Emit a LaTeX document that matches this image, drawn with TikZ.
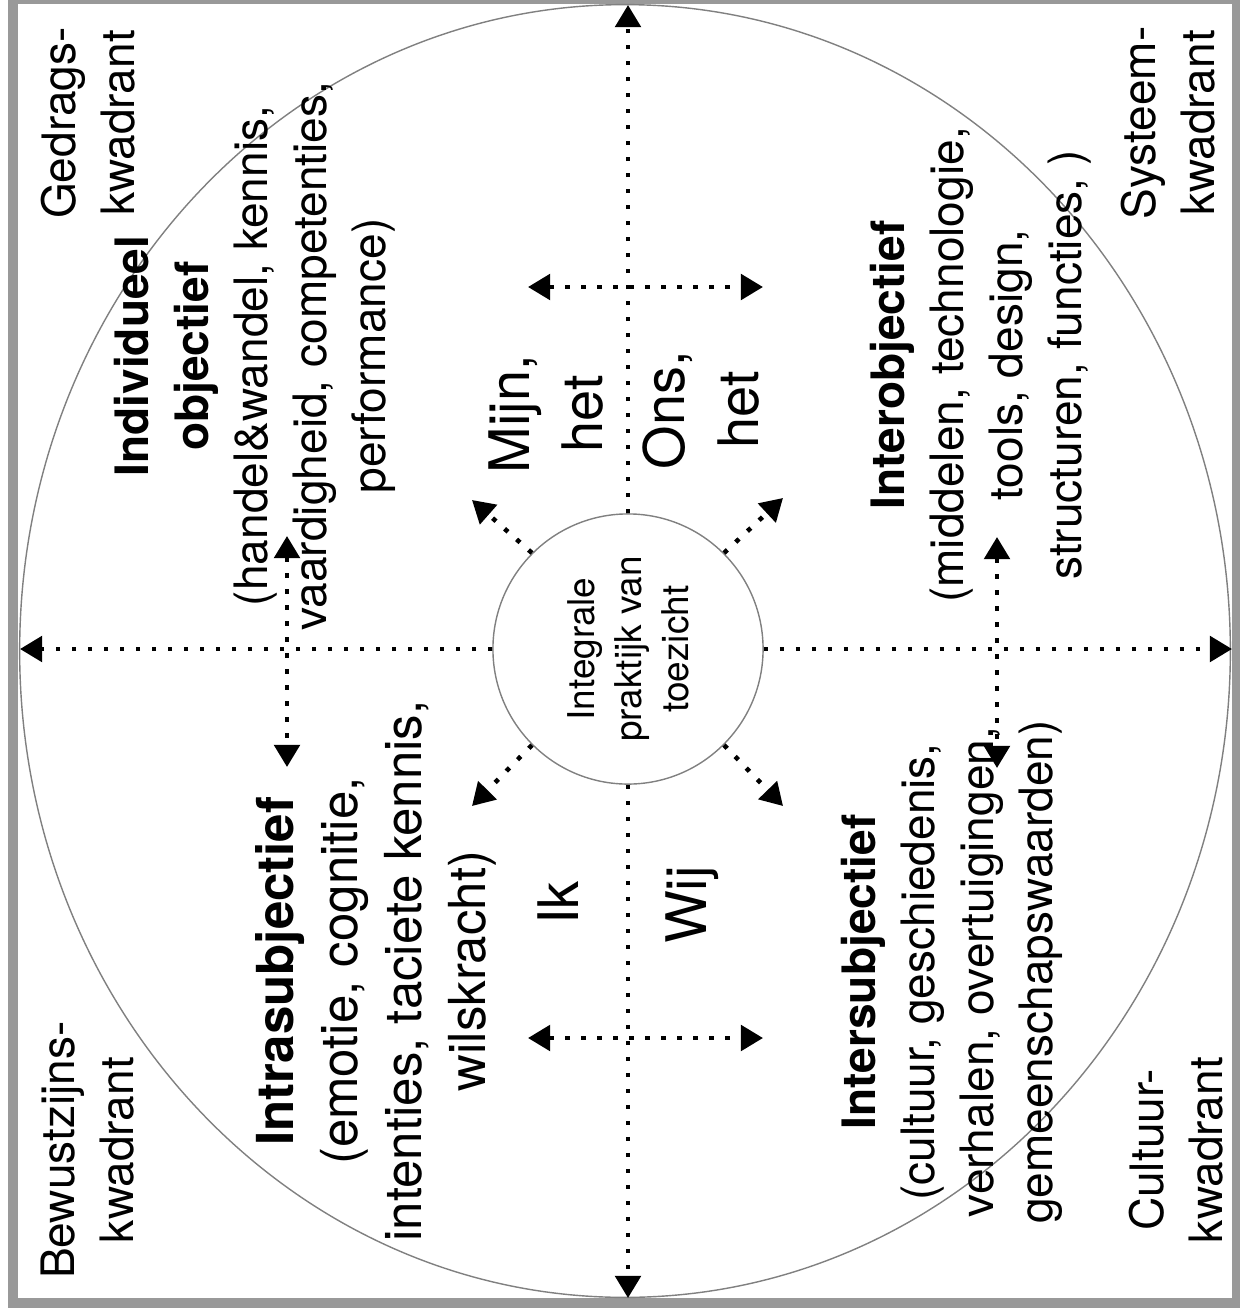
\documentclass[tikz,border=0pt]{standalone}
\usepackage{fontspec}
\setmainfont{TeX Gyre Heros}
\usetikzlibrary{arrows.meta}

\begin{document}
\begin{tikzpicture}[x=0.01cm,y=-0.01cm,
  kader/.style={draw=black!40,line width=0.1cm},
  ring/.style={draw=black!50,line width=0.4pt},
  pijl/.style={line width=1.3pt,dash pattern=on 1.3pt off 3.25pt,-{Triangle[length=6.3pt,width=7.2pt]}},
  dubbelpijl/.style={pijl,{Triangle[length=6.3pt,width=7.2pt]}-{Triangle[length=6.3pt,width=7.2pt]}},
  tekst/.style={rotate=90,align=center,inner sep=0pt,font=\fontsize{13.1}{16.8}\selectfont},
  groot/.style={tekst,font=\fontsize{15.9}{20.8}\selectfont}]
\useasboundingbox (0,0) rectangle (1240,1315);
\draw[kader] (13,-1) rectangle (1237,1303);
\draw[ring] (625,651) ellipse [x radius=6.05cm,y radius=6.46cm];

%the hub in the middle, its text is turned with the rest
\node[ring,circle,minimum size=2.7cm] (hub) at (628,649) {};
\node[tekst,font=\fontsize{10.5}{13.4}\selectfont] (hubtekst) at (hub.center) {Integrale\\praktijk van\\toezicht};

%quadrant names in the corners
\node[tekst] (gedrag) at (88,123) {Gedrags-\\kwadrant};
\node[tekst] (systeem) at (1168,123) {Systeem-\\kwadrant};
\node[tekst] (bewustzijn) at (88,1150) {Bewustzijns-\\kwadrant};
\node[tekst] (cultuur) at (1176,1150) {Cultuur-\\kwadrant};

\node[tekst] (individueel) at (255,356) {\textbf{Individueel}\\\textbf{objectief}\\(handel\&wandel, kennis,\\vaardigheid, competenties,\\performance)};
\node[tekst] (interobj) at (981,365) {\textbf{Interobjectief}\\(middelen, technologie,\\tools, design,\\structuren, functies, )};
\node[tekst,font=\fontsize{14.5}{18.2}\selectfont] (intrasubj) at (376,971) {\textbf{Intrasubjectief}\\(emotie, cognitie,\\intenties, taciete kennis,\\wilskracht)};
\node[tekst] (intersubj) at (952,972) {\textbf{Intersubjectief}\\(cultuur, geschiedenis,\\verhalen, overtuigingen,\\gemeenschapswaarden)};

\node[groot] (mijn) at (546,414) {Mijn,\\het};
\node[groot] (ons) at (701,410) {Ons,\\het};
\node[groot] (ik) at (558,903) {Ik};
\node[groot] (wij) at (692,905) {Wij};

%end points of the arrows
\coordinate (links) at (20,649);
\coordinate (rechts) at (1232,649);
\coordinate (boven) at (628,5);
\coordinate (onder) at (628,1298);
\coordinate (nw) at (472,500);
\coordinate (no) at (783,498);
\coordinate (zw) at (472,806);
\coordinate (zo) at (783,806);
\coordinate (mijnL) at (528,287);
\coordinate (mijnR) at (763,287);
\coordinate (wijL) at (528,1038);
\coordinate (wijR) at (763,1038);
\coordinate (indivB) at (287,536);
\coordinate (indivO) at (287,767);
\coordinate (interB) at (997,537);
\coordinate (interO) at (997,768);

\draw[pijl] (hub.west) -- (links);
\draw[pijl] (hub.east) -- (rechts);
\draw[pijl] (hub.north) -- (boven);
\draw[pijl] (hub.south) -- (onder);
\foreach \a/\b in {north west/nw,north east/no,south west/zw,south east/zo}
  \draw[pijl] (hub.\a) -- (\b);

\draw[dubbelpijl] (mijnL) -- (mijnR);
\draw[dubbelpijl] (wijL) -- (wijR);
\draw[dubbelpijl] (indivB) -- (indivO);
\draw[dubbelpijl] (interB) -- (interO);
\end{tikzpicture}
\end{document}
